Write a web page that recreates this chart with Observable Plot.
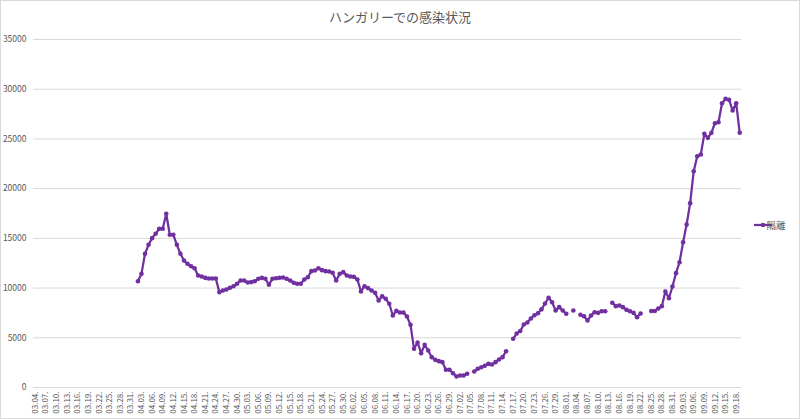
<!DOCTYPE html>
<html><head><meta charset="utf-8">
<script src="https://cdn.jsdelivr.net/npm/d3@7"></script>
<script src="https://cdn.jsdelivr.net/npm/@observablehq/plot@0.6"></script>
<style>
html,body{margin:0;padding:0;background:#fff;}
#chart{width:800px;height:419px;}
svg{font-family:"Noto Sans CJK JP","Noto Sans",sans-serif;}
</style></head><body><div id="chart"></div>
<script>
const title = "ハンガリーでの感染状況";
const seriesName = "隔離";
const axisStart = "2020-03-04";
const axisEnd = "2020-09-19";
const dataStart = "2020-04-02";
// daily values from 04.02 to 09.19 (null = no data)
const quarantine = [
  10690, 11430, 13450, 14350, 15020, 15460, 15960, 15960, 17470, 15360,
  15360, 14350, 13450, 12770, 12440, 12200, 12000, 11260, 11160, 11030,
  10960, 10960, 10960, 9590, 9760, 9860, 10030, 10190, 10430, 10760,
  10760, 10560, 10600, 10690, 10930, 11030, 10930, 10330, 10930, 10990,
  11030, 11060, 10930, 10760, 10530, 10430, 10430, 10860, 11090, 11700,
  11770, 12000, 11800, 11700, 11670, 11530, 10760, 11430, 11600, 11260,
  11160, 11130, 10860, 9650, 10190, 9990, 9760, 9520, 8750, 9180,
  8920, 8420, 7240, 7710, 7540, 7540, 7140, 6300, 3890, 4530,
  3450, 4290, 3720, 3050, 2780, 2650, 2550, 1780, 1780, 1440,
  1110, 1210, 1210, 1380, null, 1610, 1880, 2040, 2180, 2380,
  2310, 2550, 2820, 3050, 3650, null, 4900, 5430, 5680, 6340,
  6540, 6940, 7270, 7470, 7860, 8450, 9020, 8580, 7740, 8080,
  7740, 7410, null, 7740, null, 7310, 7170, 6740, 7240, 7570,
  7510, 7670, 7670, null, 8520, 8180, 8250, 8080, 7810, 7670,
  7510, 7070, 7440, null, null, 7700, 7700, 7950, 8180, 9650,
  8980, 10160, 11500, 12600, 14610, 16390, 18540, 21750, 23260, 23430,
  25510, 25110, 25620, 26580, 26680, 28590, 29030, 28930, 27860, 28590,
  25620
];
const yTicks = [0, 5000, 10000, 15000, 20000, 25000, 30000, 35000];
const tickEvery = 3;

const parse = d3.utcParse("%Y-%m-%d");
const days = d3.utcDay.range(parse(axisStart), d3.utcDay.offset(parse(axisEnd), 1));
const fmt = d3.utcFormat("%m.%d.");
const offset = d3.utcDay.count(parse(axisStart), parse(dataStart));
const data = days.map((d, i) => {
  const v = i >= offset ? quarantine[i - offset] : null;
  return {i, value: v == null ? NaN : v};
});
const xTicks = days.map((d, i) => i).filter(i => i % tickEvery === 0);

const purple = "#7030a0";
const textColor = "#595959";
const gridColor = "#d9d9d9";

const plot = Plot.plot({
  width: 800, height: 419,
  marginLeft: 33, marginRight: 59, marginTop: 39, marginBottom: 32,
  style: {color: textColor, fontSize: "9px", background: "#fff"},
  x: {type: "linear", domain: [-0.5, days.length - 0.5], label: null},
  y: {domain: [0, 35000], label: null},
  marks: [
    Plot.gridY(yTicks, {stroke: gridColor, strokeOpacity: 1}),
    Plot.axisY(yTicks, {tickSize: 0, tickPadding: 7, fontSize: 8.5, label: null, tickFormat: d => String(d)}),
    Plot.axisX(xTicks, {tickSize: 0, tickPadding: 4, tickRotate: -90, fontSize: 8, label: null, tickFormat: i => fmt(days[i])}),
    Plot.line(data, {x: "i", y: "value", stroke: purple, strokeWidth: 2.25}),
    Plot.dot(data.filter(d => !isNaN(d.value)), {x: "i", y: "value", r: 2.3, fill: purple, stroke: "none"})
  ]
});

const svg = d3.select(plot);
svg.append("rect").attr("x", 0.5).attr("y", 0.5).attr("width", 799).attr("height", 418)
  .attr("fill", "none").attr("stroke", gridColor);
svg.append("text").attr("x", 400).attr("y", 22).attr("text-anchor", "middle")
  .attr("font-size", 13).attr("fill", textColor).text(title);
const lg = svg.append("g");
lg.append("line").attr("x1", 754).attr("x2", 772).attr("y1", 225).attr("y2", 225)
  .attr("stroke", purple).attr("stroke-width", 2.25);
lg.append("circle").attr("cx", 763).attr("cy", 225).attr("r", 2.3).attr("fill", purple);
lg.append("text").attr("x", 776).attr("y", 228.5).attr("font-size", 9.5).attr("fill", textColor).text(seriesName);

document.getElementById("chart").appendChild(plot);
</script></body></html>
